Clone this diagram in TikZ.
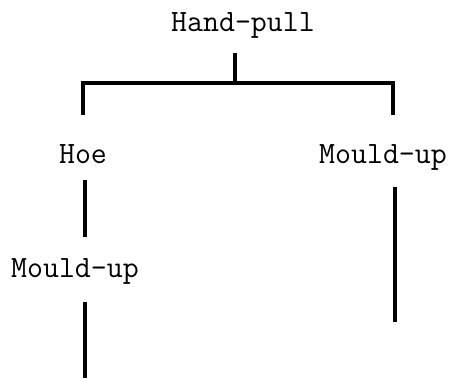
\documentclass[tikz,border=0pt]{standalone}
\begin{document}
\begin{tikzpicture}[x=1pt,y=-1pt,
  lbl/.style={font=\ttfamily\fontsize{31}{34}\selectfont, inner sep=0pt, anchor=base},
  conn/.style={line width=3.2pt}]
\useasboundingbox (0,0) rectangle (451,380);
\node[lbl] (hp) at (243,31) {Hand-pull};
\node[lbl] (hoe) at (83,163) {Hoe};
\node[lbl] (mr) at (383,163) {Mould-up};
\node[lbl] (ml) at (75,277) {Mould-up};
% tree from Hand-pull
\coordinate (s0) at (235,53);
\coordinate (j) at (235,83);
\coordinate (lt) at (83,115);
\coordinate (rt) at (393,115);
\draw[conn] (s0) -- (j);
\draw[conn] (lt) |- (j) -| (rt);
% Hoe column
\coordinate (h1) at (85,180);
\coordinate (h2) at (85,237);
\draw[conn] (h1) -- (h2);
\coordinate (m1) at (85,302);
\coordinate (m2) at (85,378);
\draw[conn] (m1) -- (m2);
% right column
\coordinate (r1) at (395,187);
\coordinate (r2) at (395,322);
\draw[conn] (r1) -- (r2);
\end{tikzpicture}
\end{document}
